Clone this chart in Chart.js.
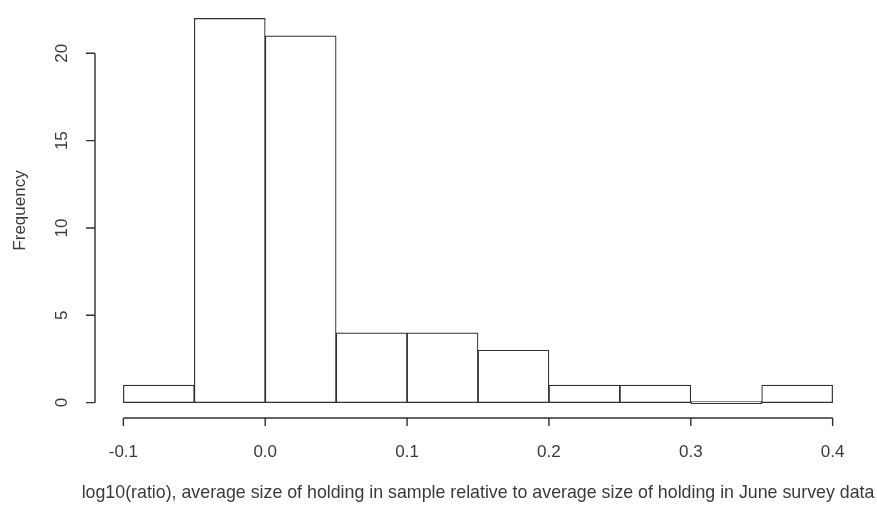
<!DOCTYPE html>
<html>
<head>
<meta charset="utf-8">
<script src="https://cdn.jsdelivr.net/npm/chart.js@4.4.0/dist/chart.umd.min.js"></script>
<style>
  html, body { margin: 0; padding: 0; background: #fff; }
  #wrap { width: 877px; height: 507px; }
</style>
</head>
<body>
<div id="wrap"><canvas id="hist"></canvas></div>
<script>
// histogram bins (left edges) and counts
const binStarts = [-0.1, -0.05, 0.0, 0.05, 0.1, 0.15, 0.2, 0.25, 0.3, 0.35];
const binWidth = 0.05;
const counts = [1, 22, 21, 4, 4, 3, 1, 1, 0, 1];
const xTicks = [-0.1, 0.0, 0.1, 0.2, 0.3, 0.4];
const xTickLabels = ['-0.1', '0.0', '0.1', '0.2', '0.3', '0.4'];
const yTicks = [0, 5, 10, 15, 20];
const xTitle = 'log10(ratio), average size of holding in sample relative to average size of holding in June survey data';
const yTitle = 'Frequency';

const ink = '#303030';
const font = '"Liberation Sans", Arial, sans-serif';

// R style axes, drawn off the plot region
const rAxes = {
    id: 'rAxes',
    afterDraw(chart) {
        const c = chart.ctx;
        const xs = chart.scales.x, ys = chart.scales.y;
        const area = chart.chartArea;
        c.save();
        c.strokeStyle = ink;
        c.fillStyle = '#3a3a3a';
        c.lineWidth = 1.4;

        // x axis
        const yx = area.bottom;
        c.beginPath();
        c.moveTo(xs.getPixelForValue(xTicks[0]), yx);
        c.lineTo(xs.getPixelForValue(xTicks[xTicks.length - 1]), yx);
        xTicks.forEach(v => {
            const px = xs.getPixelForValue(v);
            c.moveTo(px, yx);
            c.lineTo(px, yx + 8);
        });
        c.stroke();
        c.font = '17px ' + font;
        c.textAlign = 'center';
        c.textBaseline = 'middle';
        xTicks.forEach((v, i) => {
            c.fillText(xTickLabels[i], xs.getPixelForValue(v), yx + 34);
        });

        // y axis
        const xy = area.left;
        c.beginPath();
        c.moveTo(xy, ys.getPixelForValue(yTicks[0]));
        c.lineTo(xy, ys.getPixelForValue(yTicks[yTicks.length - 1]));
        yTicks.forEach(v => {
            const py = ys.getPixelForValue(v);
            c.moveTo(xy, py);
            c.lineTo(xy - 9, py);
        });
        c.stroke();
        yTicks.forEach(v => {
            c.save();
            c.translate(xy - 33, ys.getPixelForValue(v));
            c.rotate(-Math.PI / 2);
            c.fillText(String(v), 0, 0);
            c.restore();
        });

        // axis titles
        c.save();
        c.translate(20, (area.top + area.bottom) / 2);
        c.rotate(-Math.PI / 2);
        c.fillText(yTitle, 0, 0);
        c.restore();

        c.font = '17.8px ' + font;
        c.fillText(xTitle, (area.left + area.right) / 2, yx + 75);
        c.restore();
    }
};

const ctx = document.getElementById('hist').getContext('2d');
const hist = new Chart(ctx, {
    type: 'bar',
    data: {
        datasets: [{
            label: yTitle,
            data: binStarts.map((b, i) => ({ x: b + binWidth / 2, y: counts[i] })),
            backgroundColor: '#ffffff',
            borderColor: ink,
            borderWidth: 1.2,
            borderSkipped: false,
            minBarLength: 2,
            barPercentage: 1,
            categoryPercentage: 1
        }]
    },
    options: {
        responsive: true,
        maintainAspectRatio: false,
        animation: false,
        layout: { padding: { left: 95, right: 16, top: 3, bottom: 89 } },
        plugins: {
            legend: { display: false },
            tooltip: { enabled: false }
        },
        scales: {
            x: {
                type: 'linear',
                display: false,
                offset: false,
                min: -0.12,
                max: 0.42
            },
            y: {
                display: false,
                min: -0.88,
                max: 22.88
            }
        }
    },
    plugins: [rAxes]
});
</script>
</body>
</html>
